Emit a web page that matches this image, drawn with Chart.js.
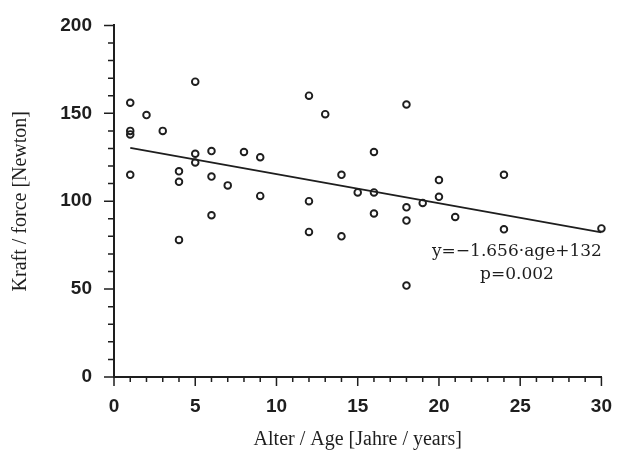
<!DOCTYPE html>
<html>
<head>
<meta charset="utf-8">
<script src="https://cdn.jsdelivr.net/npm/chart.js@4/dist/chart.umd.min.js"></script>
<style>
  html, body { margin: 0; padding: 0; background: #fff; }
  #wrap { width: 622px; height: 463px; }
</style>
</head>
<body>
<div id="wrap"><canvas id="chart"></canvas></div>
<script>
// age in years, force in Newton
const ages = [1, 1, 1, 1, 2, 3, 4, 4, 4, 5, 5, 5, 6, 6, 6, 7, 8, 9, 9,
  12, 12, 12, 13, 14, 14, 15, 16, 16, 16, 18, 18, 18, 18, 19, 20, 20, 21, 24, 24, 30];
const forces = [156, 140, 138, 115, 149, 140, 117, 111, 78, 168, 127, 122, 128.5, 114, 92, 109, 128, 125, 103,
  160, 100, 82.5, 149.5, 115, 80, 105, 128, 105, 93, 155, 96.5, 89, 52, 99, 112, 102.5, 91, 115, 84, 84.5];

// regression given in the figure
const slope = -1.656;
const intercept = 132;
const fitFrom = 1;
const fitTo = 30;
const fitText = ['y=\u22121.656\u00b7age+132', 'p=0.002'];

const yTicks = { min: 0, max: 200, step: 10, labelEvery: 50 };
const xTicks = { min: 0, max: 30, step: 1, labelEvery: 5 };

const ink = '#1e1e1e';

const points = ages.map((a, i) => ({ x: a, y: forces[i] }));
const fitLine = [fitFrom, fitTo].map(a => ({ x: a, y: slope * a + intercept }));

// draws the outward tick marks, long for labelled ones
const tickMarks = {
  id: 'tickMarks',
  afterDraw(chart) {
    const ctx = chart.ctx;
    const xs = chart.scales.x, ys = chart.scales.y;
    const area = chart.chartArea;
    ctx.save();
    ctx.strokeStyle = ink;
    ctx.lineWidth = 1.5;
    ctx.beginPath();
    ys.ticks.forEach(t => {
      const py = ys.getPixelForValue(t.value);
      const len = t.value % yTicks.labelEvery === 0 ? 10 : 6;
      ctx.moveTo(area.left, py);
      ctx.lineTo(area.left - len, py);
    });
    xs.ticks.forEach(t => {
      const px = xs.getPixelForValue(t.value);
      const len = t.value % xTicks.labelEvery === 0 ? 9 : 5;
      ctx.moveTo(px, area.bottom);
      ctx.lineTo(px, area.bottom + len);
    });
    ctx.stroke();
    ctx.restore();
  }
};

// equation text, placed in data units
const fitLabel = {
  id: 'fitLabel',
  afterDraw(chart) {
    const ctx = chart.ctx;
    const xs = chart.scales.x, ys = chart.scales.y;
    ctx.save();
    ctx.fillStyle = ink;
    ctx.font = '17px "DejaVu Serif"';
    ctx.textAlign = 'center';
    ctx.textBaseline = 'middle';
    ctx.fillText(fitText[0], xs.getPixelForValue(24.8), ys.getPixelForValue(71.3));
    ctx.fillText(fitText[1], xs.getPixelForValue(24.8), ys.getPixelForValue(58));
    ctx.restore();
  }
};

const tickFont = { family: '"Liberation Sans", Arial, sans-serif', size: 19, weight: 'bold' };
const titleFont = { family: '"Liberation Serif", "Times New Roman", serif', size: 20 };

new Chart(document.getElementById('chart'), {
  type: 'scatter',
  data: {
    datasets: [{
      data: points,
      clip: false,
      pointStyle: 'circle',
      pointRadius: 3.3,
      pointBorderWidth: 1.9,
      borderColor: ink,
      backgroundColor: 'rgba(255,255,255,0)',
      pointHoverRadius: 3.3
    }, {
      type: 'line',
      data: fitLine,
      borderColor: ink,
      borderWidth: 1.8,
      pointRadius: 0,
      fill: false,
      tension: 0
    }]
  },
  options: {
    responsive: true,
    maintainAspectRatio: false,
    animation: false,
    events: [],
    layout: { padding: { top: 15, right: 19, left: 0, bottom: 0 } },
    plugins: {
      legend: { display: false },
      tooltip: { enabled: false }
    },
    scales: {
      x: {
        type: 'linear',
        min: xTicks.min,
        max: xTicks.max,
        afterFit(s) { s.height = 86; },
        grid: { display: false },
        border: { display: true, color: ink, width: 2 },
        ticks: {
          stepSize: xTicks.step,
          autoSkip: false,
          maxRotation: 0,
          padding: 10,
          color: ink,
          font: tickFont,
          callback: v => v % xTicks.labelEvery === 0 ? v : ''
        },
        title: {
          display: true,
          text: 'Alter / Age [Jahre / years]',
          color: ink,
          font: titleFont,
          padding: { top: 0, bottom: 11 }
        }
      },
      y: {
        type: 'linear',
        min: yTicks.min,
        max: yTicks.max,
        afterFit(s) { s.width = 114; },
        grid: { display: false },
        border: { display: true, color: ink, width: 2 },
        ticks: {
          stepSize: yTicks.step,
          autoSkip: false,
          padding: 14,
          color: ink,
          font: tickFont,
          callback: v => v % yTicks.labelEvery === 0 ? v : ''
        },
        title: {
          display: true,
          text: 'Kraft / force [Newton]',
          color: ink,
          font: titleFont,
          padding: { top: 9, bottom: 0 }
        }
      }
    }
  },
  plugins: [tickMarks, fitLabel]
});
</script>
</body>
</html>
